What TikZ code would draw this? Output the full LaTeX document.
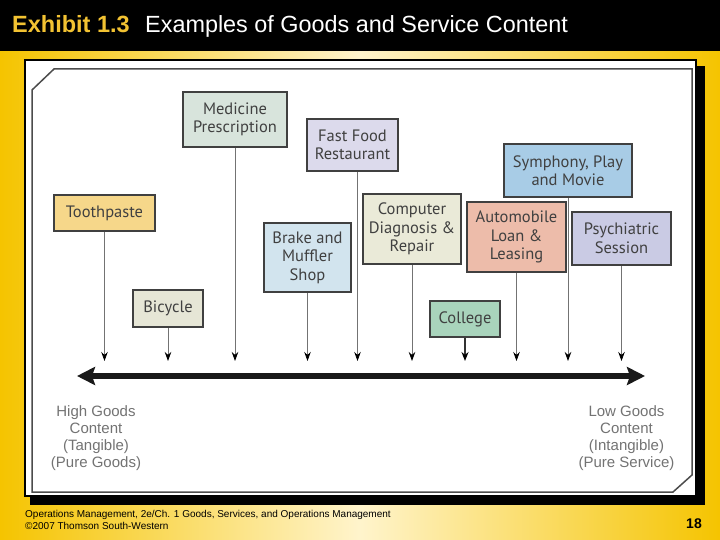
\documentclass[tikz,border=0pt]{standalone}
\usepackage{fontspec}
\setmainfont{Liberation Sans}
\newfontfamily\boxfont{PT Sans}
\usetikzlibrary{arrows.meta}
\definecolor{gold}{HTML}{F5C400}
\definecolor{cream}{HTML}{FFF4CC}
\definecolor{titleyel}{HTML}{F2C232}
\definecolor{cTooth}{HTML}{F6D78A}
\definecolor{cBike}{HTML}{E6E6D6}
\definecolor{cMed}{HTML}{D8E4DC}
\definecolor{cBrake}{HTML}{D2E4EE}
\definecolor{cFast}{HTML}{DCDAEC}
\definecolor{cComp}{HTML}{EAEAD8}
\definecolor{cColl}{HTML}{A9D4BC}
\definecolor{cAuto}{HTML}{EDBCAA}
\definecolor{cSym}{HTML}{A8CCE6}
\definecolor{cPsy}{HTML}{CACBE4}
\tikzset{
  box/.style={draw=black!75, line width=1.6pt, align=center, inner sep=0pt,
    text=black!75, font=\boxfont\fontsize{16.5}{18.5}\selectfont},
  conn/.style={draw=black!55, line width=0.8pt, -{Stealth[length=9pt,width=6.5pt,color=black]}},
  connthick/.style={draw=black!80, line width=2pt, -{Stealth[length=9pt,width=7pt,color=black]}},
  mainarrow/.style={draw=black!90, line width=6pt, {Stealth[length=18pt,width=18pt,inset=3pt]}-{Stealth[length=18pt,width=18pt,inset=3pt]}},
  lab/.style={align=center, text=black!55, font=\fontsize{15}{17}\selectfont, inner sep=0pt},
  foot/.style={anchor=base west, inner sep=0pt, font=\fontsize{10}{12}\selectfont}
}
\begin{document}
\begin{tikzpicture}[x=1pt,y=-1pt]
\useasboundingbox (0,0) rectangle (720,540);
% background
\shade[left color=gold, right color=gold, middle color=cream] (0,0) rectangle (720,540);
\fill[black] (0,0) rectangle (720,51);
\node[anchor=base west, inner sep=0pt, text=titleyel, font=\bfseries\fontsize{23.5}{26}\selectfont] (ex) at (12,33) {Exhibit 1.3};
\node[anchor=base west, inner sep=0pt, text=white, font=\fontsize{23.4}{26}\selectfont] (ttl) at (145,33) {Examples of Goods and Service Content};
% panel
\fill[black] (30,66) rectangle (705,505);
\filldraw[fill=white, draw=black, line width=2pt] (25,60) rectangle (696,496);
\draw[draw=black!70, line width=1.5pt] (32,90) -- (54,69) -- (692,69) -- (692,475) -- (673,492) -- (32,492) -- cycle;
% boxes
\node[box, fill=cTooth, minimum width=101pt, minimum height=36pt] (tp) at (104.5,213) {Toothpaste};
\node[box, fill=cBike, minimum width=70pt, minimum height=37pt] (bc) at (168,308.5) {Bicycle};
\node[box, fill=cMed, minimum width=104pt, minimum height=55pt] (md) at (235,119.5) {Medicine\\Prescription};
\node[box, fill=cBrake, minimum width=87pt, minimum height=69pt] (br) at (307.5,257.5) {Brake and\\Muffler\\Shop};
\node[box, fill=cFast, minimum width=91pt, minimum height=52pt] (ff) at (352.5,145) {Fast Food\\Restaurant};
\node[box, fill=cComp, minimum width=98pt, minimum height=70pt] (cp) at (412,229) {Computer\\Diagnosis \&\\Repair};
\node[box, fill=cColl, minimum width=70pt, minimum height=36pt] (cl) at (465,319) {College};
\node[box, fill=cAuto, minimum width=99pt, minimum height=70pt] (au) at (516.5,237) {Automobile\\Loan \&\\Leasing};
\node[box, fill=cSym, minimum width=128pt, minimum height=53pt] (sy) at (568,170.5) {Symphony, Play\\and Movie};
\node[box, fill=cPsy, minimum width=99pt, minimum height=53pt] (ps) at (621.5,238.5) {Psychiatric\\Session};
% connectors
\coordinate (tipline) at (0,361);
\draw[conn] (tp.south) -- (tp.south |- tipline);
\draw[conn] (bc.south) -- (bc.south |- tipline);
\draw[conn] (md.south) -- (md.south |- tipline);
\draw[conn] (br.south) -- (br.south |- tipline);
\coordinate (ffs) at ([xshift=5pt]ff.south);
\draw[conn] (ffs) -- (ffs |- tipline);
\draw[conn] (cp.south) -- (cp.south |- tipline);
\draw[connthick] (cl.south) -- (cl.south |- tipline);
\draw[conn] (au.south) -- (au.south |- tipline);
\draw[conn] (sy.south) -- (sy.south |- tipline);
\draw[conn] (ps.south) -- (ps.south |- tipline);
% main axis
\coordinate (L) at (77,376);
\coordinate (R) at (645,376);
\draw[mainarrow] (L) -- (R);
% end labels
\node[lab] (hg) at (96,438) {High Goods\\Content\\(Tangible)\\(Pure Goods)};
\node[lab] (lg) at (626.5,438) {Low Goods\\Content\\(Intangible)\\(Pure Service)};
% footer
\node[foot] (f1) at (25,517) {Operations Management, 2e/Ch. 1 Goods, Services, and Operations Management};
\node[foot] (f2) at (25,529) {©2007 Thomson South-Western};
\node[anchor=base east, inner sep=0pt, font=\bfseries\fontsize{14}{16}\selectfont] (pg) at (702,528) {18};
\end{tikzpicture}
\end{document}
